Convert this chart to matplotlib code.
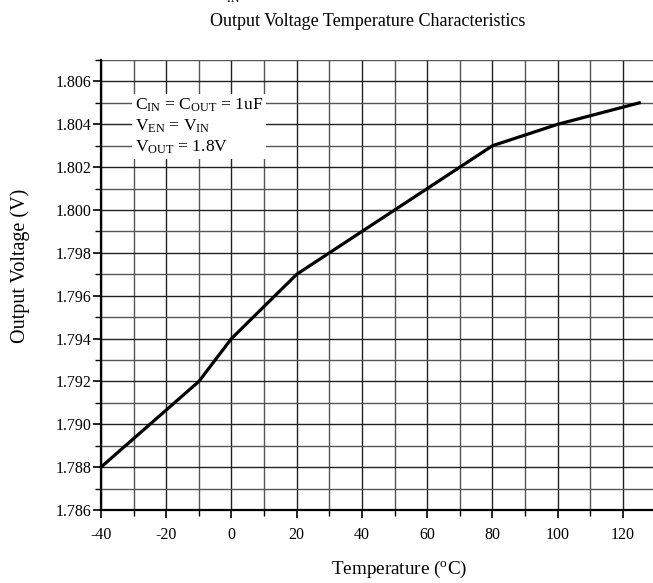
import matplotlib
matplotlib.use('Agg')
import matplotlib.pyplot as plt
from matplotlib.ticker import MultipleLocator

plt.rcParams['font.family'] = 'Liberation Serif'
plt.rcParams['mathtext.fontset'] = 'custom'
plt.rcParams['mathtext.rm'] = 'Liberation Serif'
plt.rcParams['mathtext.it'] = 'Liberation Serif:italic'
plt.rcParams['axes.unicode_minus'] = False

# данные
temp = [-40, -10, 0, 20, 80, 100, 125]
vout = [1.788, 1.792, 1.794, 1.797, 1.803, 1.804, 1.805]
x_ticks = [-40, -20, 0, 20, 40, 60, 80, 100, 120]
y_ticks = [1.786, 1.788, 1.790, 1.792, 1.794, 1.796, 1.798, 1.800, 1.802, 1.804, 1.806]

W, H = 653, 583
fig = plt.figure(figsize=(W / 100, H / 100), dpi=100)
ax = fig.add_axes([101 / W, 1 - 510 / H, 554.6 / W, 450 / H])

ax.set_xlim(-40, 130)
ax.set_ylim(1.786, 1.807)
ax.set_xticks(x_ticks)
ax.set_yticks(y_ticks)
ax.set_yticklabels([f'{v:.3f}' for v in y_ticks])
ax.xaxis.set_minor_locator(MultipleLocator(10))
ax.yaxis.set_minor_locator(MultipleLocator(0.001))

ax.grid(which='major', color='#222222', linewidth=1.0)
ax.grid(which='minor', color='#555555', linewidth=1.0)
ax.set_axisbelow(True)

for s in ['top', 'right']:
    ax.spines[s].set_visible(False)
for s in ['left', 'bottom']:
    ax.spines[s].set_linewidth(1.6)

ax.tick_params(which='major', direction='out', length=6, width=1.2, labelsize=11.5, pad=1)
ax.tick_params(which='minor', direction='out', length=4, width=1.0)
ax.tick_params(axis='x', pad=6)

ax.plot(temp, vout, color='black', linewidth=2.3, clip_on=False, zorder=5)

ax.text(-29.5, 1.8039,
        'C$_{\\rm IN}$ = C$_{\\rm OUT}$ = 1uF\nV$_{\\rm EN}$ = V$_{\\rm IN}$\nV$_{\\rm OUT}$ = 1.8V',
        fontsize=12.6, va='center', ha='left', linespacing=1.3,
        bbox=dict(facecolor='white', edgecolor='none', pad=2), zorder=4)

fig.text(368 / W, 1 - 21 / H, 'Output Voltage Temperature Characteristics',
         fontsize=13, ha='center', va='center')
fig.text(399.5 / W, 1 - 569 / H, 'Temperature ($^{\\rm o}$C)',
         fontsize=13.8, ha='center', va='center')
fig.text(20 / W, 1 - 266 / H, 'Output Voltage (V)',
         fontsize=14.5, ha='center', va='center', rotation=90)
# обрезанный кусок подписи сверху
fig.text(240 / W, 1 - 1 / H, 'V$_{\\rm IN}$', fontsize=12, ha='right', va='baseline')

fig.savefig('out.png', dpi=100)
